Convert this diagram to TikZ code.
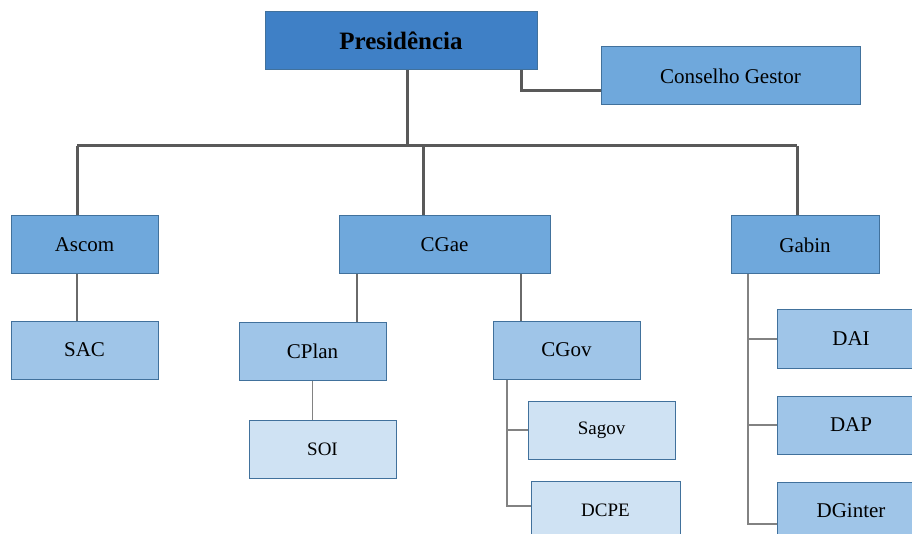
\documentclass[tikz,border=0pt]{standalone}
\usepackage{fontspec}
\setmainfont{Liberation Serif}
\definecolor{boxedge}{HTML}{41719C}
\definecolor{topblue}{HTML}{3F80C6}
\definecolor{midblue}{HTML}{6FA8DC}
\definecolor{lightblue}{HTML}{9FC5E8}
\definecolor{paleblue}{HTML}{CFE2F3}
\definecolor{linegray}{HTML}{595959}
\usetikzlibrary{positioning, calc}

\begin{document}
\begin{tikzpicture}[x=1pt, y=-1pt,
  every node/.style={font=\fontsize{21}{24}\selectfont},
  unit/.style={draw=boxedge, line width=1pt, minimum width=147pt, minimum height=58pt,
               inner sep=0pt, text=black},
  level1/.style={unit, fill=midblue},
  level2/.style={unit, fill=lightblue},
  level3/.style={unit, fill=paleblue, font=\fontsize{19}{22}\selectfont},
  trunk/.style={draw=linegray, line width=3pt},
  branch/.style={draw=linegray!90, line width=2pt},
  twig/.style={draw=linegray!75, line width=1.3pt},
]
  \clip (0,0) rectangle (912,534);

  % Top
  \node[unit, fill=topblue, minimum width=272pt, font=\fontsize{25}{28}\selectfont\bfseries]
    (pres) at (401,41) {Presidência};
  \node[level1, minimum width=259pt] (cons) at (730.5,76) {Conselho Gestor};

  % First level
  \node[level1] (ascom) at (84.5,245) {Ascom};
  \node[level1, minimum width=211pt] (cgae) at (444.5,245) {CGae};
  \node[level1, minimum width=148pt] (gabin) at (805,245) {Gabin};

  % Second level
  \node[level2] (sac) at (84.5,350) {SAC};
  \node[level2] (cplan) at (312.5,351) {CPlan};
  \node[level2] (cgov) at (566.5,350) {CGov};
  \node[level2, minimum width=148pt] (dai) at (851,339) {DAI};
  \node[level2, minimum width=148pt] (dap) at (851,425) {DAP};
  \node[level2, minimum width=148pt] (dginter) at (851,511) {DGinter};

  % Third level
  \node[level3] (soi) at (322.5,449) {SOI};
  \node[level3] (sagov) at (601.5,430) {Sagov};
  \node[level3, minimum width=149pt] (dcpe) at (605.5,510) {DCPE};

  % Junctions
  \coordinate (presj) at (407,0);
  \coordinate (consj) at (521,91);
  \coordinate (busL) at (77,146);
  \coordinate (busM) at (423,146);
  \coordinate (busR) at (797,146);
  \coordinate (jplan) at (357,0);
  \coordinate (jgov) at (521,0);
  \coordinate (govend) at (507,506);
  \coordinate (gabend) at (748,524);

  % Connectors
  \draw[trunk] (pres.south -| presj) -- (busL -| presj);
  \draw[trunk] (pres.south -| consj) |- (cons.west |- consj);
  \draw[trunk] (busL) -- (busR);
  \draw[trunk] (busL) -- (busL |- ascom.north);
  \draw[trunk] (busM) -- (busM |- cgae.north);
  \draw[trunk] (busR) -- (busR |- gabin.north);

  \draw[branch] (busL |- ascom.south) -- (busL |- sac.north);
  \draw[branch] (cgae.south -| jplan) -- (cplan.north -| jplan);
  \draw[branch] (cgae.south -| jgov) -- (cgov.north -| jgov);

  \draw[twig] (cplan.south) -- (cplan.south |- soi.north);
  \draw[twig] (cgov.south -| govend) -- (govend) -- (govend -| dcpe.west);
  \draw[twig] (govend |- sagov.west) -- (sagov.west);
  \draw[twig] (gabin.south -| gabend) -- (gabend) -- (gabend -| dginter.west);
  \draw[twig] (gabend |- dai.west) -- (dai.west);
  \draw[twig] (gabend |- dap.west) -- (dap.west);
\end{tikzpicture}
\end{document}
